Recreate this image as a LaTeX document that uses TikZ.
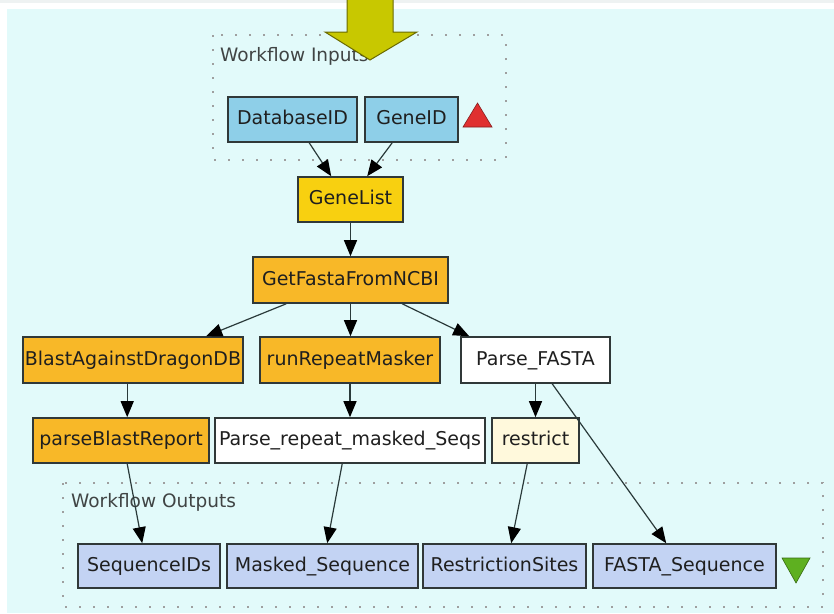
\documentclass[tikz,border=0pt]{standalone}
\usepackage{fontspec}
\setmainfont{DejaVu Sans}
\usetikzlibrary{arrows.meta,calc}

\definecolor{bgcyan}{HTML}{E2FAFA}
\definecolor{topstrip}{HTML}{EEF2F2}
\definecolor{inblue}{HTML}{8ECFE8}
\definecolor{outblue}{HTML}{C3D3F3}
\definecolor{gold}{HTML}{F8D010}
\definecolor{procorange}{HTML}{F8B828}
\definecolor{cream}{HTML}{FFF9DC}
\definecolor{boxline}{HTML}{303838}
\definecolor{flowline}{HTML}{2A3A3A}
\definecolor{arrowyellow}{HTML}{C8C800}
\definecolor{arrowedge}{HTML}{6A6A00}
\definecolor{warnred}{HTML}{E03030}
\definecolor{okgreen}{HTML}{5EB020}
\definecolor{labelgray}{HTML}{404444}

\tikzset{
  wfbox/.style={draw=boxline, line width=1.6pt, inner sep=0pt, anchor=center,
    text height=14pt, text depth=4pt,
    font=\fontsize{19}{22}\selectfont, text=black!88},
  inport/.style={wfbox, fill=inblue},
  outport/.style={wfbox, fill=outblue},
  genebox/.style={wfbox, fill=gold},
  procbox/.style={wfbox, fill=procorange},
  plainbox/.style={wfbox, fill=white},
  creambox/.style={wfbox, fill=cream},
  flow/.style={draw=flowline, line width=1.2pt,
    -{Triangle[length=16pt,width=13pt,fill=black,color=black]}},
  portframe/.style={draw=gray!75, line width=2pt, dash pattern=on 2pt off 12pt},
  framelabel/.style={anchor=base west, inner sep=0pt, text=labelgray,
    font=\fontsize{18.5}{22}\selectfont}
}

\begin{document}
\begin{tikzpicture}[x=1pt,y=-1pt]
  % canvas
  \useasboundingbox (0,0) rectangle (834,613);
  \fill[white] (0,0) rectangle (834,613);
  \fill[topstrip] (0,0) rectangle (834,3);
  \fill[bgcyan] (7,9) rectangle (834,613);

  % input and output frames
  \draw[portframe] (213,35) rectangle (506,160);
  \node[framelabel] (inlabel) at (220,61) {Workflow Inputs};
  \draw[portframe] (63,483) rectangle (823,607);
  \node[framelabel] (outlabel) at (71,507) {Workflow Outputs};

  % workflow inputs
  \node[inport, minimum width=129pt, minimum height=45pt] (db)  at (292.5,119.5) {DatabaseID};
  \node[inport, minimum width=93pt,  minimum height=45pt] (gid) at (411.5,119.5) {GeneID};
  \fill[warnred, draw=warnred!60!black, line width=0.6pt] (463,127) -- (492,127) -- (477.5,103) -- cycle;

  % processors
  \node[genebox,  minimum width=105pt, minimum height=45pt] (gl)    at (350.5,199.5) {GeneList};
  \node[procbox,  minimum width=195pt, minimum height=46pt] (gf)    at (350.5,280)   {GetFastaFromNCBI};
  \node[procbox,  minimum width=220pt, minimum height=46pt] (blast) at (133,360)     {BlastAgainstDragonDB};
  \node[procbox,  minimum width=180pt, minimum height=46pt] (rrm)   at (350,360)     {runRepeatMasker};
  \node[plainbox, minimum width=149pt, minimum height=46pt] (pf)    at (535.5,360)   {Parse\_FASTA};
  \node[procbox,  minimum width=176pt, minimum height=45pt] (pbr)   at (121,440.5)   {parseBlastReport};
  \node[plainbox, minimum width=270pt, minimum height=45pt] (prm)   at (350,440.5)   {Parse\_repeat\_masked\_Seqs};
  \node[creambox, minimum width=87pt,  minimum height=45pt] (rs)    at (535.5,440.5) {restrict};

  % workflow outputs
  \node[outport, minimum width=142pt, minimum height=44pt] (sid)    at (149,566)   {SequenceIDs};
  \node[outport, minimum width=191pt, minimum height=44pt] (ms)     at (322.5,566) {Masked\_Sequence};
  \node[outport, minimum width=163pt, minimum height=44pt] (rsites) at (504.5,566) {RestrictionSites};
  \node[outport, minimum width=183pt, minimum height=44pt] (fs)     at (684.5,566) {FASTA\_Sequence};
  \fill[okgreen, draw=okgreen!60!black, line width=0.6pt] (782,558) -- (810,558) -- (796,583) -- cycle;

  % data links
  \draw[flow] ($(db.south west)+(82,0)$)  -- ($(gl.north west)+(34,0)$);
  \draw[flow] ($(gid.south west)+(28,0)$) -- ($(gl.north west)+(70,0)$);
  \draw[flow] (gl.south) -- (gf.north);
  \draw[flow] ($(gf.south west)+(34,0)$)  -- ($(blast.north west)+(184,0)$);
  \draw[flow] (gf.south) -- (gf.south |- rrm.north);
  \draw[flow] ($(gf.south west)+(150,0)$) -- ($(pf.north west)+(9,0)$);
  \draw[flow] ($(blast.south west)+(105,0)$) -- ($(pbr.north west)+(95,0)$);
  \draw[flow] (rrm.south) -- (prm.north);
  \draw[flow] (pf.south) -- (rs.north);
  \draw[flow] ($(pf.south west)+(92,0)$)  -- ($(fs.north west)+(74,0)$);
  \draw[flow] ($(pbr.south west)+(95,0)$) -- ($(sid.north west)+(65,0)$);
  \draw[flow] ($(prm.south west)+(128,0)$) -- ($(ms.north west)+(101,0)$);
  \draw[flow] ($(rs.south west)+(36,0)$)  -- ($(rsites.north west)+(89,0)$);

  % big pointer arrow entering the inputs frame
  \draw[fill=arrowyellow, draw=arrowedge, line width=1pt]
    (347,-2) -- (393,-2) -- (393,32) -- (417,32) -- (370,60) -- (325,32) -- (347,32) -- cycle;
\end{tikzpicture}
\end{document}
